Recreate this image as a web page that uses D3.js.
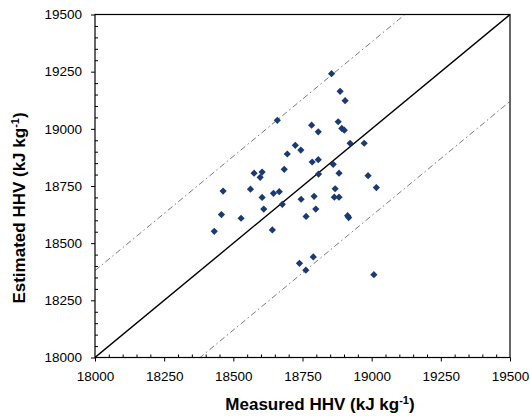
<!DOCTYPE html>
<html>
<head>
<meta charset="utf-8">
<script src="https://cdn.jsdelivr.net/npm/d3@7"></script>
<style>
  html, body { margin: 0; padding: 0; background: #fff; }
  svg { display: block; }
  text { font-family: "Liberation Sans", Arial, sans-serif; fill: #000; }
</style>
</head>
<body>
<svg id="chart" width="530" height="416"></svg>
<script>
// Data
const measured = [18855, 18886, 18904, 18659, 18879, 18783, 18807, 18892, 18901, 18922,
  18973, 18724, 18744, 18695, 18807, 18785, 18861, 18684, 18808, 18882,
  18987, 18575, 18604, 18597, 19017, 18463, 18562, 18868, 18604, 18645,
  18666, 18745, 18792, 18865, 18882, 18677, 18610, 18798, 18457, 18528,
  18763, 18913, 18917, 18431, 18641, 18739, 18789, 18762, 19008];
const estimated = [19241, 19164, 19123, 19037, 19031, 19016, 18987, 19002, 18994, 18937,
  18937, 18928, 18907, 18890, 18865, 18855, 18845, 18823, 18802, 18806,
  18795, 18806, 18811, 18788, 18743, 18728, 18736, 18738, 18700, 18718,
  18725, 18692, 18705, 18701, 18701, 18670, 18649, 18649, 18625, 18609,
  18617, 18620, 18612, 18552, 18558, 18412, 18440, 18382, 18362];
const xTicks = [18000, 18250, 18500, 18750, 19000, 19250, 19500];
const yTicks = [18000, 18250, 18500, 18750, 19000, 19250, 19500];
const domainMin = 18000, domainMax = 19500;
const bandOffset = 380;

(function () {
const svg = d3.select("#chart");
const L = 95, R = 510, T = 14.5, B = 357.5;

const x = d3.scaleLinear().domain([domainMin, domainMax]).range([L, R]);
const y = d3.scaleLinear().domain([domainMin, domainMax]).range([B, T]);

svg.append("defs").append("clipPath").attr("id", "clip")
  .append("rect").attr("x", L).attr("y", T)
  .attr("width", R - L).attr("height", B - T);

const minorTicks = d3.range(domainMin, domainMax + 1, 50).filter(v => !xTicks.includes(v));

// Minor ticks (inside)
svg.append("g").attr("transform", `translate(0,${B})`)
  .call(d3.axisTop(x).tickValues(minorTicks).tickSize(3).tickFormat(""))
  .call(g => g.select(".domain").remove())
  .call(g => g.selectAll("line").attr("stroke", "#000"));
svg.append("g").attr("transform", `translate(${L},0)`)
  .call(d3.axisRight(y).tickValues(minorTicks).tickSize(3).tickFormat(""))
  .call(g => g.select(".domain").remove())
  .call(g => g.selectAll("line").attr("stroke", "#000"));

// Major axes
svg.append("g").attr("transform", `translate(0,${B})`)
  .call(d3.axisBottom(x).tickValues(xTicks).tickSize(4).tickPadding(10).tickFormat(d3.format("d")))
  .call(g => g.select(".domain").remove())
  .call(g => g.selectAll("line").attr("stroke", "#000"))
  .call(g => g.selectAll("text").attr("font-size", 13.5).attr("font-family", "Liberation Sans, Arial, sans-serif"));
svg.append("g").attr("transform", `translate(${L},0)`)
  .call(d3.axisLeft(y).tickValues(yTicks).tickSize(4).tickPadding(9).tickFormat(d3.format("d")))
  .call(g => g.select(".domain").remove())
  .call(g => g.selectAll("line").attr("stroke", "#000"))
  .call(g => g.selectAll("text").attr("font-size", 13.5).attr("font-family", "Liberation Sans, Arial, sans-serif"));

// Lines
const line = d3.line().x(d => x(d[0])).y(d => y(d[1]));
const plot = svg.append("g").attr("clip-path", "url(#clip)");
[bandOffset, -bandOffset].forEach(off => {
  plot.append("path")
    .attr("d", line([[domainMin, domainMin + off], [domainMax, domainMax + off]]))
    .attr("fill", "none").attr("stroke", "#6b6b6b").attr("stroke-width", 0.9)
    .attr("stroke-dasharray", "6,3,1.5,3");
});
plot.append("path")
  .attr("d", line([[domainMin, domainMin], [domainMax, domainMax]]))
  .attr("fill", "none").attr("stroke", "#000").attr("stroke-width", 1.4);

// Frame
svg.append("rect").attr("x", L).attr("y", T)
  .attr("width", R - L).attr("height", B - T)
  .attr("fill", "none").attr("stroke", "#000").attr("stroke-width", 1.2);

// Points
const sym = d3.symbol().type(d3.symbolSquare).size(26);
svg.append("g").selectAll("path").data(measured.map((m, i) => [m, estimated[i]]))
  .join("path")
  .attr("d", sym)
  .attr("transform", d => `translate(${x(d[0])},${y(d[1])}) rotate(45)`)
  .attr("fill", "#1c3a72");

// Axis titles
const xt = svg.append("text").attr("x", 320).attr("y", 410)
  .attr("text-anchor", "middle").attr("font-size", 17).attr("font-weight", "bold");
xt.append("tspan").text("Measured HHV (kJ kg");
xt.append("tspan").attr("dy", -6).attr("font-size", 11).text("-1");
xt.append("tspan").attr("dy", 6).text(")");

const yt = svg.append("text").attr("transform", "translate(25,208) rotate(-90)")
  .attr("text-anchor", "middle").attr("font-size", 17).attr("font-weight", "bold");
yt.append("tspan").text("Estimated HHV (kJ kg");
yt.append("tspan").attr("dy", -6).attr("font-size", 11).text("-1");
yt.append("tspan").attr("dy", 6).text(")");
})();
</script>
</body>
</html>
